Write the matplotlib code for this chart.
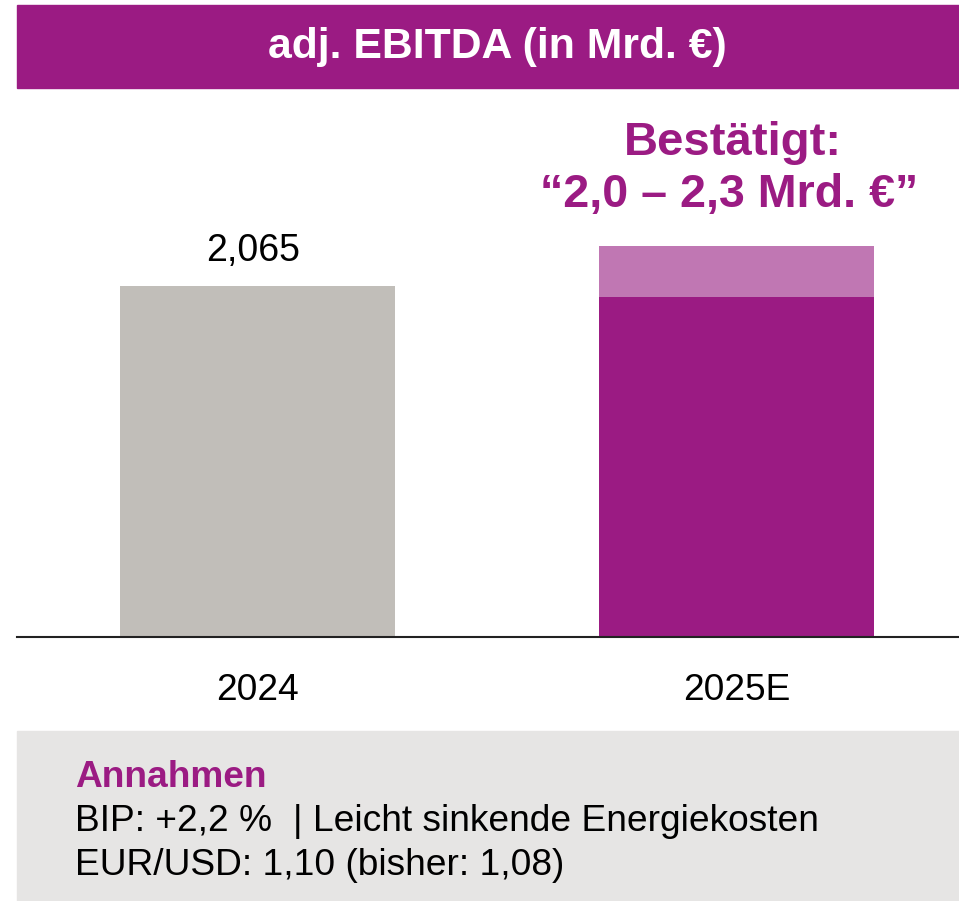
import matplotlib
matplotlib.use("Agg")
import matplotlib.pyplot as plt
from matplotlib.patches import Rectangle

plt.rcParams['font.family'] = ['Liberation Sans', 'DejaVu Sans']

categories = ["2024", "2025E"]
actual_value = 2.065
guidance_low = 2.0
guidance_high = 2.3
value_label = "2,065"
title = "adj. EBITDA (in Mrd. €)"
guidance_text = ["Bestätigt:", "“2,0 – 2,3 Mrd. €”"]
box_title = "Annahmen"
box_lines = ["BIP: +2,2 %  | Leicht sinkende Energiekosten",
             "EUR/USD: 1,10 (bisher: 1,08)"]

PURPLE = "#9B1B83"
LIGHT_PURPLE = "#C077B3"
GREY_BAR = "#C1BEB9"
GREY_BOX = "#E6E5E4"

W, H = 959, 901
fig = plt.figure(figsize=(W / 100, H / 100), dpi=100)

def fx(px):
    return px / W

def fy(py):
    return 1 - py / H

# title banner
fig.patches.append(Rectangle((fx(17), fy(88)), fx(959) - fx(17), fy(5) - fy(88),
                             transform=fig.transFigure, color=PURPLE, zorder=0))
fig.text(fx(497.5), fy(47), title, ha="center", va="center", color="white",
         fontsize=30.8, fontweight="bold")

# bottom box
fig.patches.append(Rectangle((fx(17), fy(901)), fx(959) - fx(17), fy(731) - fy(901),
                             transform=fig.transFigure, color=GREY_BOX, zorder=0))
fig.text(fx(75), fy(787), box_title, ha="left", va="baseline", color=PURPLE,
         fontsize=26.7, fontweight="bold")
fig.text(fx(75), fy(831), box_lines[0], ha="left", va="baseline", color="black", fontsize=26.7)
fig.text(fx(75), fy(875), box_lines[1], ha="left", va="baseline", color="black", fontsize=26.7)

# axes: baseline at y=637, top at y=100
ax_top, ax_bottom = 100, 637
px_per_unit = 170.0
ymax = (ax_bottom - ax_top) / px_per_unit
ax = fig.add_axes([fx(17), fy(ax_bottom), fx(959) - fx(17), fy(ax_top) - fy(ax_bottom)])
spacing = 479.0
x0 = 257.5
xl = -(x0 - 17) / spacing
xr = 1 + (959 - (x0 + spacing)) / spacing
ax.set_xlim(xl, xr)
ax.set_ylim(0, ymax)
bw = 275 / spacing

xs = [0, 1]
ax.bar(xs[0], actual_value, width=bw, color=GREY_BAR, zorder=2)
ax.bar(xs[1], guidance_low, width=bw, color=PURPLE, zorder=2)
ax.bar(xs[1], guidance_high - guidance_low, bottom=guidance_low, width=bw,
       color=LIGHT_PURPLE, zorder=2)

ax.text(xs[0] - 0.01, actual_value + 0.145, value_label, ha="center", va="baseline",
        fontsize=27, color="black")
ax.text(xs[1] - 0.007, guidance_high + 0.535, guidance_text[0], ha="center", va="baseline",
        fontsize=34, fontweight="bold", color=PURPLE)
ax.text(xs[1] - 0.015, guidance_high + 0.23, guidance_text[1], ha="center", va="baseline",
        fontsize=33.6, fontweight="bold", color=PURPLE)

for s in ["top", "right", "left"]:
    ax.spines[s].set_visible(False)
ax.spines["bottom"].set_color("#222222")
ax.spines["bottom"].set_linewidth(1.5)
ax.set_yticks([])
ax.set_xticks(xs)
ax.set_xticklabels(categories, fontsize=26.7)
ax.tick_params(axis="x", length=0, pad=26)
ax.patch.set_alpha(0)

fig.savefig("out.png", dpi=100)
